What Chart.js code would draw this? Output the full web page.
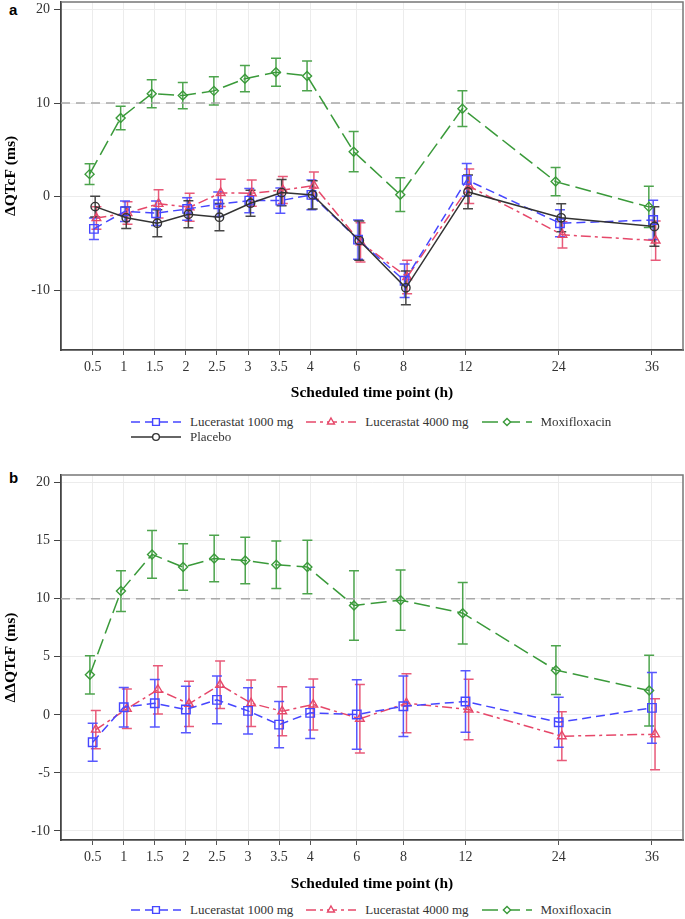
<!DOCTYPE html>
<html><head><meta charset="utf-8">
<script src="https://cdn.jsdelivr.net/npm/chart.js@4.4.0/dist/chart.umd.min.js"></script>
<style>
html,body{margin:0;padding:0;background:#fff;}
body{width:685px;height:919px;position:relative;overflow:hidden;font-family:"Liberation Serif",serif;}
.wrap{position:absolute;left:0;width:685px;}
.plabel{position:absolute;left:9px;font:bold 15px "Liberation Sans",Arial,sans-serif;color:#000;line-height:17px;}
.legend{position:absolute;left:131px;font:13px "Liberation Serif",serif;color:#333;}
.lrow{display:flex;align-items:center;height:15px;white-space:nowrap;}
.litem{display:flex;align-items:center;margin-right:13px;}
.litem canvas{margin-right:9px;display:block;}
</style></head>
<body>
<div class="plabel" style="top:1px">a</div>
<div class="wrap" style="top:0;height:405px"><canvas id="cA" width="685" height="405"></canvas></div>
<div id="legA" class="legend" style="top:414px"></div>
<div class="plabel" style="top:469px">b</div>
<div class="wrap" style="top:460px;height:436px"><canvas id="cB" width="685" height="436"></canvas></div>
<div id="legB" class="legend" style="top:902px"></div>
<script>
// ---- categories / axis ----
const timeLabels = ['0.5','1','1.5','2','2.5','3','3.5','4','6','8','12','24','36'];
const timeSlots  = [0,1,2,3,4,5,6,7,8.5,10,12,15,18];
const xTitle = 'Scheduled time point (h)';

// ---- panel a : ΔQTcF ----
const aYTicks = [-10,0,10,20];
const aL1000    = [-3.45,-1.57,-1.78,-1.32,-0.82,-0.43,-0.43,0.18,-4.6,-9.0,1.78,-2.85,-2.5];
const aL1000Err = [1.15,1.1,1.3,1.2,1.3,1.3,1.35,1.6,2.1,1.8,1.75,1.45,2.1];
const aL4000    = [-2.3,-1.75,-0.78,-1.14,0.39,0.36,0.7,1.17,-4.9,-8.6,1.1,-4.09,-4.7];
const aL4000Err = [1.2,1.2,1.5,1.5,1.45,1.4,1.45,1.45,2.1,1.8,1.85,1.4,2.1];
const aMoxi     = [2.4,8.4,11.0,10.8,11.3,12.6,13.3,12.9,4.8,0.2,9.4,1.6,-1.1];
const aMoxiErr  = [1.1,1.25,1.5,1.4,1.5,1.4,1.5,1.6,2.15,1.8,1.9,1.5,2.2];
const aPlacebo    = [-1.07,-2.27,-2.85,-1.89,-2.2,-0.71,0.43,0.18,-4.7,-9.75,0.5,-2.27,-3.2];
const aPlaceboErr = [1.1,1.15,1.45,1.45,1.45,1.4,1.4,1.5,2.1,1.8,1.8,1.5,2.1];

// ---- panel b : ΔΔQTcF ----
const bYTicks = [-10,-5,0,5,10,15,20];
const bL1000    = [-2.36,0.66,1.0,0.46,1.29,0.34,-0.84,0.17,0.03,0.74,1.15,-0.64,0.6];
const bL1000Err = [1.63,1.7,2.05,2.0,2.05,2.0,2.0,2.2,3.0,2.6,2.65,2.15,3.05];
const bL4000    = [-1.27,0.52,2.16,0.95,2.59,1.0,0.31,0.89,-0.34,1.0,0.46,-1.84,-1.67];
const bL4000Err = [1.65,1.7,2.08,1.95,2.05,2.0,2.1,2.2,2.95,2.55,2.6,2.1,3.05];
const bMoxi     = [3.45,10.66,13.82,12.73,13.47,13.3,12.93,12.73,9.42,9.88,8.76,3.85,2.09];
const bMoxiErr  = [1.65,1.75,2.05,2.0,2.0,2.0,2.05,2.3,3.0,2.6,2.65,2.1,3.05];

const refValue = 10;

// ---- styles ----
const ST = {
  l1000:  {name:'Lucerastat 1000 mg', color:'#4646ff', dash:[9,5], point:'rect', radius:6, order:1},
  l4000:  {name:'Lucerastat 4000 mg', color:'#e6486a', dash:[10,4,3,4], point:'triangle', radius:5, order:2},
  moxi:   {name:'Moxifloxacin', color:'#3a9a3a', dash:[16,6], point:'rectRot', radius:4.5, order:3},
  placebo:{name:'Placebo', color:'#333333', dash:[], point:'circle', radius:4.2, order:0}
};

const errorBars = {
  id:'errorBars',
  beforeDatasetsDraw(chart){
    const {ctx, chartArea:ca, scales:{x,y}} = chart;
    ctx.save();
    ctx.beginPath(); ctx.rect(ca.left, ca.top, ca.right-ca.left, ca.bottom-ca.top); ctx.clip();
    const idx = chart.data.datasets.map((d,i)=>i).sort((a,b)=>chart.data.datasets[b].order-chart.data.datasets[a].order);
    idx.forEach(i=>{
      const ds = chart.data.datasets[i];
      ctx.strokeStyle = ds.borderColor; ctx.lineWidth = 1.5; ctx.setLineDash([]);
      ctx.globalAlpha = 0.9;
      ds.data.forEach(p=>{
        const px = x.getPixelForValue(p.x);
        const t = y.getPixelForValue(p.y + p.err), b = y.getPixelForValue(p.y - p.err);
        ctx.beginPath();
        ctx.moveTo(px,t); ctx.lineTo(px,b);
        ctx.moveTo(px-5,t); ctx.lineTo(px+5,t);
        ctx.moveTo(px-5,b); ctx.lineTo(px+5,b);
        ctx.stroke();
      });
    });
    ctx.restore();
  }
};
const refLine = {
  id:'refLine',
  beforeDatasetsDraw(chart, args, o){
    const {ctx, chartArea:ca, scales:{y}} = chart;
    const py = y.getPixelForValue(o.value);
    ctx.save(); ctx.strokeStyle='#a8a8a8'; ctx.lineWidth=1.5; ctx.setLineDash([9,6]);
    ctx.beginPath(); ctx.moveTo(ca.left, py); ctx.lineTo(ca.right, py); ctx.stroke(); ctx.restore();
  }
};
const frame = {
  id:'frame',
  afterDraw(chart){
    const {ctx, chartArea:ca} = chart;
    ctx.save(); ctx.strokeStyle='#777'; ctx.lineWidth=1.5;
    ctx.beginPath(); ctx.moveTo(ca.left, ca.top); ctx.lineTo(ca.right, ca.top); ctx.lineTo(ca.right, ca.bottom); ctx.stroke();
    ctx.restore();
  }
};

const serif = '"Liberation Serif", serif';
function buildChart(id, o){
  return new Chart(document.getElementById(id), {
    type:'line',
    data:{datasets:o.series.map(s=>({
      label:s.st.name,
      data:s.mean.map((v,i)=>({x:timeSlots[i]+s.dodge, y:v, err:s.err[i]})),
      borderColor:s.st.color, backgroundColor:'rgba(0,0,0,0)', borderWidth:1.5,
      borderDash:s.st.dash, pointStyle:s.st.point, pointRadius:s.st.radius,
      pointBorderWidth:1.4, pointBorderColor:s.st.color, pointBackgroundColor:'rgba(255,255,255,0)',
      tension:0, fill:false, order:s.st.order
    }))},
    options:{
      responsive:false, animation:false, events:[],
      layout:{autoPadding:false, padding:{top:o.padTop, right:2, left:0, bottom:0}},
      plugins:{legend:{display:false}, tooltip:{enabled:false}, refLine:{value:refValue}},
      scales:{
        x:{type:'linear', min:-1.02, max:19,
          afterBuildTicks:s=>{s.ticks = timeSlots.map(v=>({value:v}));},
          afterFit:s=>{s.height = o.xH; s.paddingLeft = 0; s.paddingRight = 0;},
          ticks:{autoSkip:false, maxRotation:0, padding:4, color:'#333',
            font:{family:serif, size:14},
            callback:(v,i)=>timeLabels[i]},
          grid:{color:'#ececec', lineWidth:1, tickColor:'#555', tickLength:5},
          border:{color:'#444', width:1.8},
          title:{display:true, text:xTitle, color:'#000', padding:{top:0,bottom:3},
            font:{family:serif, size:15.5, weight:'bold'}}
        },
        y:{type:'linear', min:o.yMin, max:o.yMax,
          afterBuildTicks:s=>{s.ticks = o.yTicks.map(v=>({value:v}));},
          afterFit:s=>{s.width = 61; s.paddingTop = 0; s.paddingBottom = 0;},
          ticks:{padding:4, color:'#333', font:{family:serif, size:14}},
          grid:{color:'#ececec', lineWidth:1, tickColor:'#444', tickLength:7},
          border:{color:'#444', width:1.8},
          title:{display:true, text:o.yTitle, color:'#000', padding:{top:2,bottom:0},
            font:{family:serif, size:15.5, weight:'bold'}}
        }
      }
    },
    plugins:[errorBars, refLine, frame]
  });
}

buildChart('cA', {
  padTop:2, xH:55, yMin:-16.4, yMax:20.8, yTicks:aYTicks, yTitle:'ΔQTcF (ms)',
  series:[
    {st:ST.l1000, mean:aL1000, err:aL1000Err, dodge:0.04},
    {st:ST.l4000, mean:aL4000, err:aL4000Err, dodge:0.12},
    {st:ST.moxi, mean:aMoxi, err:aMoxiErr, dodge:-0.1},
    {st:ST.placebo, mean:aPlacebo, err:aPlaceboErr, dodge:0.08}
  ]
});
buildChart('cB', {
  padTop:15, xH:56, yMin:-10.78, yMax:20.66, yTicks:bYTicks, yTitle:'ΔΔQTcF (ms)',
  series:[
    {st:ST.l1000, mean:bL1000, err:bL1000Err, dodge:0},
    {st:ST.l4000, mean:bL4000, err:bL4000Err, dodge:0.1},
    {st:ST.moxi, mean:bMoxi, err:bMoxiErr, dodge:-0.09}
  ]
});

function buildLegend(id, rows){
  const el = document.getElementById(id);
  rows.forEach(r=>{
    const row = document.createElement('div'); row.className='lrow';
    r.forEach(st=>{
      const it = document.createElement('div'); it.className='litem';
      const c = document.createElement('canvas'); c.width=50; c.height=14;
      const ctx = c.getContext('2d');
      ctx.strokeStyle=st.color; ctx.lineWidth=1.5; ctx.setLineDash(st.dash.length?st.dash:[]);
      ctx.beginPath(); ctx.moveTo(0,7); ctx.lineTo(50,7); ctx.stroke();
      ctx.setLineDash([]);
      ctx.fillStyle='#ffffff'; ctx.lineWidth=1.4;
      const r0 = st.radius*0.8;
      Chart.helpers.drawPoint(ctx, {pointStyle:st.point, radius:r0, rotation:0, borderWidth:1.4}, 25, 7);
      const sp = document.createElement('span'); sp.textContent = st.name;
      it.appendChild(c); it.appendChild(sp); row.appendChild(it);
    });
    el.appendChild(row);
  });
}
buildLegend('legA', [[ST.l1000, ST.l4000, ST.moxi],[ST.placebo]]);
buildLegend('legB', [[ST.l1000, ST.l4000, ST.moxi]]);
</script>
</body></html>
